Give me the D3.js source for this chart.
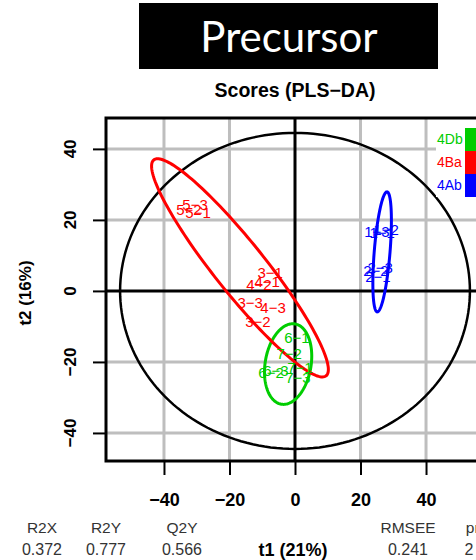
<!DOCTYPE html>
<html>
<head>
<meta charset="utf-8">
<script src="https://cdn.jsdelivr.net/npm/d3@7"></script>
<style>
  body { margin: 0; background: #fff; }
  text { font-family: "Liberation Sans", Arial, sans-serif; }
</style>
</head>
<body>
<div id="chart"></div>
<script>
// groups and colours
const groups = ["4Db", "4Ba", "4Ab"];
const groupColors = ["#00cd00", "#ff0000", "#0000ff"];

// score points (t1, t2) with sample labels
const sampleNames = ["6-1", "7-2", "7-1", "6-3", "6-2", "7-3",
                     "5-3", "5-2", "5-1", "3-1", "4-1", "4-2", "3-3", "4-3", "3-2",
                     "1-3", "1-1", "1-2", "2-3", "2-2", "2-1"];
const sampleGroup = ["4Db", "4Db", "4Db", "4Db", "4Db", "4Db",
                     "4Ba", "4Ba", "4Ba", "4Ba", "4Ba", "4Ba", "4Ba", "4Ba", "4Ba",
                     "4Ab", "4Ab", "4Ab", "4Ab", "4Ab", "4Ab"];
const t1 = [0.6, -1.8, 1.5, -5.8, -7.3, 0.9,
            -30.5, -32.4, -29.6, -7.6, -8.5, -11.0, -13.7, -6.7, -11.3,
            25.0, 26.6, 27.8, 26.0, 24.7, 25.3];
const t2 = [-13.1, -17.7, -21.7, -22.5, -23.1, -24.5,
            24.2, 22.8, 22.0, 5.1, 2.5, 1.7, -3.4, -4.8, -8.7,
            16.6, 16.3, 17.2, 6.5, 5.6, 3.9];

// class ellipses: centre, major half-axis vector, minor half-axis vector (data units)
const ellipseCenter = [[-2.1, -20.6], [-16.8, 6.5], [26.6, 11.0]];
const ellipseMajor = [[2.1, 11.3], [26.3, -30.4], [1.5, 16.9]];
const ellipseMinor = [[6.9, -1.1], [-6.05, -4.45], [2.4, -0.2]];

// Hotelling T2 ellipse radii
const hotellingRadii = [53.4, 44.5];

// axis ticks
const xTicks = [-40, -20, 0, 20, 40];
const yTicks = [-40, -20, 0, 20, 40];

// model summary
const statNames = ["R2X", "R2Y", "Q2Y", "RMSEE", "pre"];
const statValues = ["0.372", "0.777", "0.566", "0.241", "2"];

const width = 476, height = 560;
const plot = { left: 106, top: 118, right: 484, bottom: 461 };

const svg = d3.select("#chart").append("svg")
    .attr("width", width)
    .attr("height", height);

const x = d3.scaleLinear().domain([-57.7, 57.7]).range([plot.left, plot.right]);
const y = d3.scaleLinear().domain([-47.9, 48.7]).range([plot.bottom, plot.top]);

// title block
svg.append("rect")
    .attr("x", 139).attr("y", 3)
    .attr("width", 299).attr("height", 66)
    .attr("fill", "#000");
svg.append("text")
    .attr("x", 289).attr("y", 52)
    .attr("text-anchor", "middle")
    .attr("fill", "#fff")
    .style("font-family", "Lato, 'Open Sans', sans-serif")
    .style("font-size", "42px")
    .text("Precursor");

svg.append("text")
    .attr("x", 295).attr("y", 97)
    .attr("text-anchor", "middle")
    .style("font-size", "19.5px")
    .style("font-weight", "bold")
    .text("Scores (PLS\u2212DA)");

svg.append("defs").append("clipPath").attr("id", "clip")
    .append("rect")
    .attr("x", plot.left).attr("y", plot.top)
    .attr("width", plot.right - plot.left).attr("height", plot.bottom - plot.top);

const g = svg.append("g").attr("clip-path", "url(#clip)");

// grid lines
g.selectAll(".vgrid")
    .data(xTicks.filter(d => d !== 0))
    .enter().append("line")
    .attr("x1", d => x(d)).attr("x2", d => x(d))
    .attr("y1", plot.top).attr("y2", plot.bottom)
    .attr("stroke", "#bebebe").attr("stroke-width", 3);
g.selectAll(".hgrid")
    .data(yTicks.filter(d => d !== 0))
    .enter().append("line")
    .attr("x1", plot.left).attr("x2", plot.right)
    .attr("y1", d => y(d)).attr("y2", d => y(d))
    .attr("stroke", "#bebebe").attr("stroke-width", 3);

// zero lines
g.append("line")
    .attr("x1", x(0)).attr("x2", x(0))
    .attr("y1", plot.top).attr("y2", plot.bottom)
    .attr("stroke", "#000").attr("stroke-width", 3);
g.append("line")
    .attr("x1", plot.left).attr("x2", plot.right)
    .attr("y1", y(0)).attr("y2", y(0))
    .attr("stroke", "#000").attr("stroke-width", 3);

const angles = d3.range(0, 2 * Math.PI, Math.PI / 90);
const line = d3.line()
    .x(d => x(d[0]))
    .y(d => y(d[1]))
    .curve(d3.curveLinearClosed);

// Hotelling ellipse
g.append("path")
    .datum(angles.map(a => [hotellingRadii[0] * Math.cos(a), hotellingRadii[1] * Math.sin(a)]))
    .attr("d", line)
    .attr("fill", "none")
    .attr("stroke", "#000")
    .attr("stroke-width", 2.5);

// class ellipses
groups.forEach((grp, i) => {
    const c = ellipseCenter[i], u = ellipseMajor[i], v = ellipseMinor[i];
    g.append("path")
        .datum(angles.map(a => [
            c[0] + Math.cos(a) * u[0] + Math.sin(a) * v[0],
            c[1] + Math.cos(a) * u[1] + Math.sin(a) * v[1]
        ]))
        .attr("d", line)
        .attr("fill", "none")
        .attr("stroke", groupColors[i])
        .attr("stroke-width", 3);
});

// sample labels
const colorOf = d3.scaleOrdinal().domain(groups).range(groupColors);
g.selectAll(".lab")
    .data(sampleNames.map((n, i) => ({ name: n, grp: sampleGroup[i], t1: t1[i], t2: t2[i] })))
    .enter().append("text")
    .attr("x", d => x(d.t1))
    .attr("y", d => y(d.t2))
    .attr("dy", "0.36em")
    .attr("text-anchor", "middle")
    .attr("fill", d => colorOf(d.grp))
    .style("font-size", "15px")
    .text(d => d.name.replace("-", "\u2212"));

// legend
const legend = svg.append("g");
legend.append("rect")
    .attr("x", 436).attr("y", 127)
    .attr("width", 50).attr("height", 70)
    .attr("fill", "#fff");
groups.forEach((grp, i) => {
    legend.append("rect")
        .attr("x", 465).attr("y", 128 + i * 23)
        .attr("width", 20).attr("height", 23)
        .attr("fill", groupColors[i]);
    legend.append("text")
        .attr("x", 437).attr("y", 144 + i * 23)
        .attr("fill", groupColors[i])
        .style("font-size", "14px")
        .text(grp);
});

// box
svg.append("rect")
    .attr("x", plot.left).attr("y", plot.top)
    .attr("width", plot.right - plot.left).attr("height", plot.bottom - plot.top)
    .attr("fill", "none")
    .attr("stroke", "#000")
    .attr("stroke-width", 3);

// axes
const xAxis = d3.axisBottom(x).tickValues(xTicks).tickSize(14).tickPadding(18);
const yAxis = d3.axisLeft(y).tickValues(yTicks).tickSize(13).tickFormat("");

const gx = svg.append("g")
    .attr("transform", `translate(0,${plot.bottom})`)
    .call(xAxis);
gx.select(".domain").remove();
gx.selectAll("line").attr("stroke-width", 2);
gx.selectAll("text")
    .style("font-size", "18px")
    .style("font-weight", "bold")
    .style("font-family", "'Liberation Sans', Arial, sans-serif");

const gy = svg.append("g")
    .attr("transform", `translate(${plot.left},0)`)
    .call(yAxis);
gy.select(".domain").remove();
gy.selectAll("line").attr("stroke-width", 2);

const yFmt = d3.format("");
svg.selectAll(".ylab")
    .data(yTicks)
    .enter().append("text")
    .attr("transform", d => `translate(76,${y(d)}) rotate(-90)`)
    .attr("text-anchor", "middle")
    .style("font-size", "17px")
    .style("font-weight", "bold")
    .text(d => yFmt(d));

// axis titles
svg.append("text")
    .attr("transform", "translate(31,293) rotate(-90)")
    .attr("text-anchor", "middle")
    .style("font-size", "17px")
    .style("font-weight", "bold")
    .text("t2 (16%)");

svg.append("text")
    .attr("x", 293).attr("y", 556)
    .attr("text-anchor", "middle")
    .style("font-size", "18px")
    .style("font-weight", "bold")
    .text("t1 (21%)");

// model summary
const statX = [42, 106, 182, 408, 477];
statNames.forEach((s, i) => {
    svg.append("text")
        .attr("x", statX[i]).attr("y", 533)
        .attr("text-anchor", "middle")
        .attr("fill", "#333")
        .style("font-size", "15.5px")
        .text(s);
    svg.append("text")
        .attr("x", statX[i] - (i === 4 ? 8 : 0)).attr("y", 555)
        .attr("text-anchor", "middle")
        .attr("fill", "#333")
        .style("font-size", "16px")
        .text(statValues[i]);
});
</script>
</body>
</html>
